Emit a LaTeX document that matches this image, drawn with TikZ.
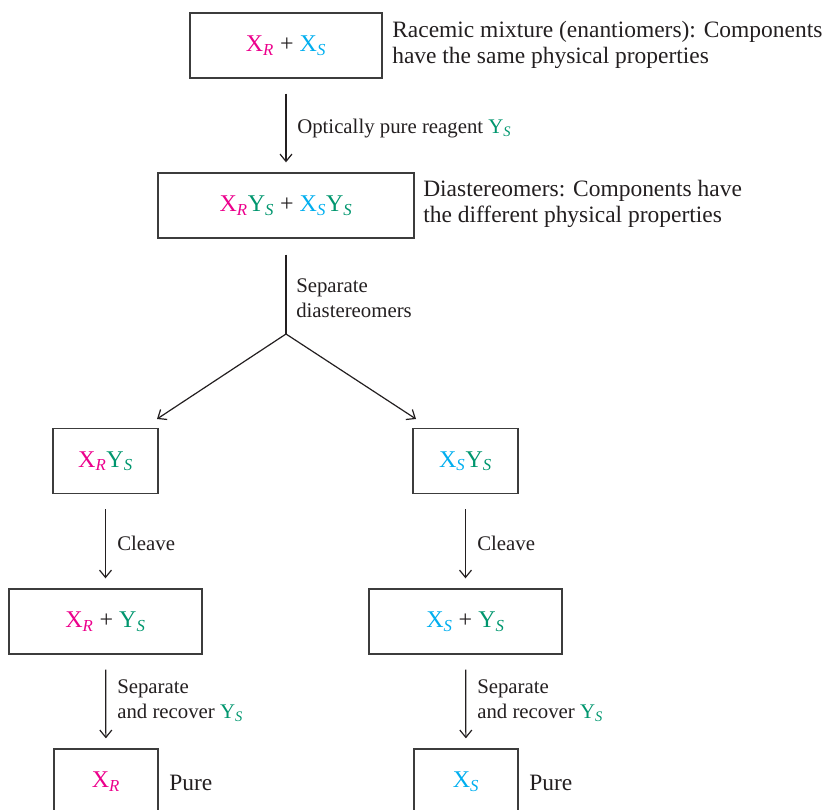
\documentclass[tikz,border=0pt]{standalone}
\usepackage{fontspec}
\setmainfont{Liberation Serif}
\usetikzlibrary{arrows.meta}
\definecolor{xmag}{HTML}{EC008C}
\definecolor{xcyan}{HTML}{00AEEF}
\definecolor{ygreen}{HTML}{00966E}
\definecolor{ink}{HTML}{231F20}
\definecolor{boxgray}{HTML}{3C3C3C}
\newcommand{\boxfont}{\fontsize{18}{22}\selectfont}
\newcommand{\sidefont}{\fontsize{17.6}{19.5}\selectfont}
\newcommand{\stepfont}{\fontsize{15.6}{18.5}\selectfont}
\newcommand{\Xr}{\textcolor{xmag}{X\textsubscript{\itshape R}}}
\newcommand{\Xs}{\textcolor{xcyan}{X\textsubscript{\itshape S}}}
\newcommand{\Ys}{\textcolor{ygreen}{Y\textsubscript{\itshape S}}}
\tikzset{
  box/.style={draw=boxgray, line width=1pt, minimum height=48.75pt, inner sep=0pt, font=\boxfont, text=ink},
  note/.style={inner sep=0pt, align=left, font=\sidefont, text=ink, anchor=base west},
  steplabel/.style={note, font=\stepfont},
  flow/.style={->, draw=ink, line width=0.9pt, shorten <=11.25pt, shorten >=7.5pt}
}
\begin{document}
\begin{tikzpicture}[x=0.75pt, y=-0.75pt, >={Straight Barb[length=5.5pt,width=9pt]}]
\useasboundingbox (0,0) rectangle (833,810);
% Racemic mixture and diastereomers
\node[box, minimum width=144pt] (mix) at (286,45.5) {\Xr{} + \Xs};
\node[box, minimum width=192pt] (dia) at (286,205.5) {\Xr\Ys{} + \Xs\Ys};
\node[note] (mixnote) at (392,63) {Racemic mixture (enantiomers): Components\\have the same physical properties};
\node[note] (dianote) at (423,222) {Diastereomers: Components have\\the different physical properties};
\draw[flow] (mix) -- (dia);
\node[steplabel] (reag) at (297,133) {Optically pure reagent \Ys};
% Splitting into two branches
\coordinate (split) at (286,334); % Điểm tách
\coordinate (tipL) at (157,419);
\coordinate (tipR) at (416,419);
\draw[draw=ink, line width=0.9pt, shorten <=12pt] (dia.south) -- (split);
\node[steplabel] (sepnote) at (296,317) {Separate\\diastereomers};
\draw[->, draw=ink, line width=0.9pt] (split) -- (tipL);
\draw[->, draw=ink, line width=0.9pt] (split) -- (tipR);
% Left branch
\node[box, minimum width=78.75pt] (rs) at (105.5,461) {\Xr\Ys};
\node[box, minimum width=144.75pt] (rplus) at (105.5,621.5) {\Xr{} + \Ys};
\node[box, minimum width=78pt] (rpure) at (106,781.5) {\Xr};
\draw[flow] (rs) -- (rplus);
\draw[flow] (rplus) -- (rpure);
\node[steplabel] (rcleave) at (117,550) {Cleave};
\node[steplabel] (rrecov) at (117,718) {Separate\\and recover \Ys};
\node[note] (rlabel) at (169,790) {Pure};
% Right branch
\node[box, minimum width=78.75pt] (ss) at (465.5,461) {\Xs\Ys};
\node[box, minimum width=144.75pt] (splus) at (465.5,621.5) {\Xs{} + \Ys};
\node[box, minimum width=78pt] (spure) at (466,781.5) {\Xs};
\draw[flow] (ss) -- (splus);
\draw[flow] (splus) -- (spure);
\node[steplabel] (scleave) at (477,550) {Cleave};
\node[steplabel] (srecov) at (477,718) {Separate\\and recover \Ys};
\node[note] (slabel) at (529,790) {Pure};
\end{tikzpicture}
\end{document}
